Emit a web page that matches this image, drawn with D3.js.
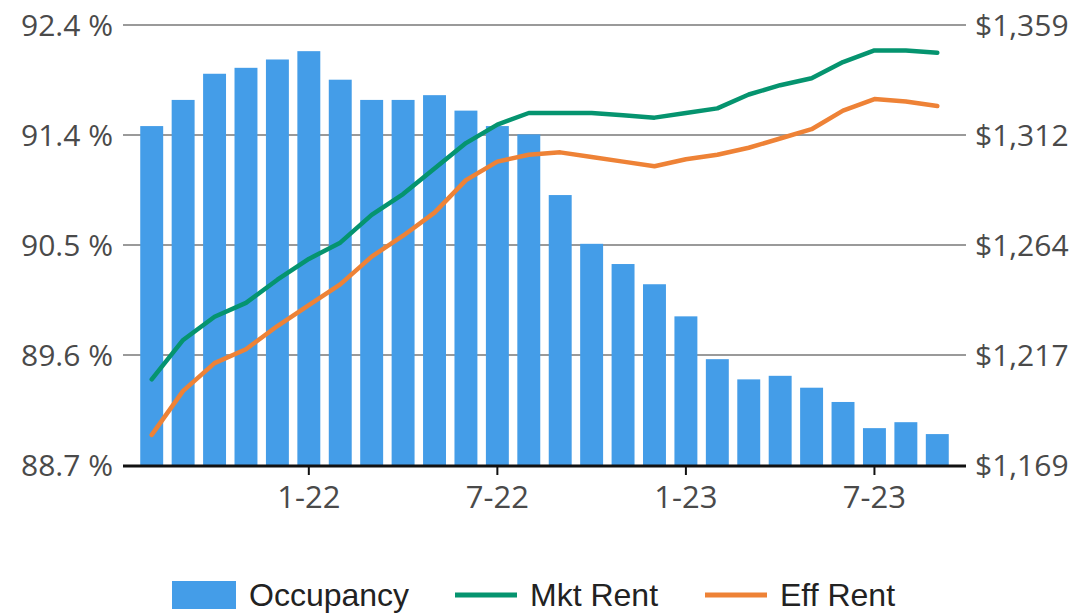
<!DOCTYPE html>
<html>
<head>
<meta charset="utf-8">
<script src="https://cdn.jsdelivr.net/npm/d3@7"></script>
<style>
  body { margin: 0; background: #fff; }
  svg { display: block; }
  .lbl { font-family: "Open Sans", sans-serif; fill: #4a4a4a; }
  .leg { font-family: "Liberation Sans", Arial, sans-serif; fill: #222; }
</style>
</head>
<body>
<script>
/* global d3 */

// months Aug 2021 .. Sep 2023
var months = [ "8-21", "9-21", "10-21", "11-21", "12-21", "1-22", "2-22", "3-22", "4-22",
  "5-22", "6-22", "7-22", "8-22", "9-22", "10-22", "11-22", "12-22", "1-23", "2-23",
  "3-23", "4-23", "5-23", "6-23", "7-23", "8-23", "9-23" ];

var occupancy = [ 91.55, 91.77, 91.99, 92.04, 92.11, 92.18, 91.94, 91.77, 91.77,
  91.81, 91.68, 91.55, 91.48, 90.97, 90.56, 90.39, 90.22, 89.95, 89.59,
  89.42, 89.45, 89.35, 89.23, 89.01, 89.06, 88.96 ];

var mktRent = [ 1206, 1223, 1233, 1239, 1249, 1258, 1265, 1277, 1286,
  1297, 1308, 1316, 1321, 1321, 1321, 1320, 1319, 1321, 1323,
  1329, 1333, 1336, 1343, 1348, 1348, 1347 ];

var effRent = [ 1182, 1201, 1213, 1219, 1229, 1238, 1247, 1259, 1268,
  1278, 1292, 1300, 1303, 1304, 1302, 1300, 1298, 1301, 1303,
  1306, 1310, 1314, 1322, 1327, 1326, 1324 ];

var leftTicks = [ 88.7, 89.625, 90.55, 91.475, 92.4 ];
var leftLabels = [ "88.7 %", "89.6 %", "90.5 %", "91.4 %", "92.4 %" ];
var rightTicks = [ 1169, 1216.5, 1264, 1311.5, 1359 ];
var rightLabels = [ "$1,169", "$1,217", "$1,264", "$1,312", "$1,359" ];
var xTickMonths = [ "1-22", "7-22", "1-23", "7-23" ];

var width = 1074, height = 613;
var plot = { left: 123, right: 966, top: 25, bottom: 465 };

var svg = d3.select( "body" ).append( "svg" )
  .attr( "width", width )
  .attr( "height", height );

var xScale = d3.scaleBand()
  .domain( months )
  .range( [ 136, 953 ] )
  .paddingInner( 0.27 )
  .paddingOuter( 0.135 );

var yLeft = d3.scaleLinear().domain( [ 88.7, 92.4 ] ).range( [ plot.bottom, plot.top ] );
var yRight = d3.scaleLinear().domain( [ 1169, 1359 ] ).range( [ plot.bottom, plot.top ] );

// gridlines
svg.append( "g" ).selectAll( "line" )
  .data( leftTicks.slice( 1 ) )
  .enter().append( "line" )
    .attr( "x1", plot.left )
    .attr( "x2", plot.right )
    .attr( "y1", d => yLeft( d ) )
    .attr( "y2", d => yLeft( d ) )
    .attr( "stroke", "#9a9a9a" )
    .attr( "stroke-width", 2 );

// bars
svg.append( "g" ).selectAll( "rect" )
  .data( occupancy )
  .enter().append( "rect" )
    .attr( "x", ( d, i ) => xScale( months[ i ] ) )
    .attr( "width", xScale.bandwidth() )
    .attr( "y", d => yLeft( d ) )
    .attr( "height", d => plot.bottom - yLeft( d ) )
    .attr( "fill", "#449de8" );

// rent lines
var line = d3.line()
  .x( ( d, i ) => xScale( months[ i ] ) + xScale.bandwidth() / 2 )
  .y( d => yRight( d ) );

var series = [ { values: mktRent, color: "#05946f" }, { values: effRent, color: "#ee8236" } ];

svg.append( "g" ).selectAll( "path" )
  .data( series )
  .enter().append( "path" )
    .attr( "d", d => line( d.values ) )
    .attr( "fill", "none" )
    .attr( "stroke", d => d.color )
    .attr( "stroke-width", 4.5 )
    .attr( "stroke-linejoin", "round" )
    .attr( "stroke-linecap", "round" );

// baseline + x ticks
svg.append( "line" )
  .attr( "x1", plot.left )
  .attr( "x2", plot.right )
  .attr( "y1", plot.bottom + 1 )
  .attr( "y2", plot.bottom + 1 )
  .attr( "stroke", "#111" )
  .attr( "stroke-width", 3 );

var xTicks = svg.append( "g" ).selectAll( "g" )
  .data( xTickMonths )
  .enter().append( "g" )
    .attr( "transform", d => "translate(" + ( xScale( d ) + xScale.bandwidth() / 2 ) + ",0)" );

xTicks.append( "line" )
  .attr( "y1", plot.bottom )
  .attr( "y2", plot.bottom + 10 )
  .attr( "stroke", "#111" )
  .attr( "stroke-width", 2 );

xTicks.append( "text" )
  .attr( "class", "lbl" )
  .attr( "y", 497 )
  .attr( "dy", "0.35em" )
  .attr( "text-anchor", "middle" )
  .style( "font-size", "31px" )
  .text( d => d );

// left axis labels
svg.append( "g" ).selectAll( "text" )
  .data( leftTicks )
  .enter().append( "text" )
    .attr( "class", "lbl" )
    .attr( "x", 113 )
    .attr( "y", d => yLeft( d ) )
    .attr( "dy", "0.35em" )
    .attr( "text-anchor", "end" )
    .style( "font-size", "30px" )
    .text( ( d, i ) => leftLabels[ i ] );

// right axis labels
svg.append( "g" ).selectAll( "text" )
  .data( rightTicks )
  .enter().append( "text" )
    .attr( "class", "lbl" )
    .attr( "x", 975 )
    .attr( "y", d => yRight( d ) )
    .attr( "dy", "0.35em" )
    .style( "font-size", "30px" )
    .text( ( d, i ) => rightLabels[ i ] );

// legend
var legend = svg.append( "g" ).attr( "transform", "translate(0,595)" );

legend.append( "rect" )
  .attr( "x", 172 ).attr( "y", -14 )
  .attr( "width", 64 ).attr( "height", 28 )
  .attr( "fill", "#449de8" );
legend.append( "text" )
  .attr( "class", "leg" ).attr( "x", 249 ).attr( "dy", "0.35em" )
  .style( "font-size", "32px" ).text( "Occupancy" );

legend.append( "line" )
  .attr( "x1", 455 ).attr( "x2", 517 )
  .attr( "stroke", "#05946f" ).attr( "stroke-width", 5 );
legend.append( "text" )
  .attr( "class", "leg" ).attr( "x", 530 ).attr( "dy", "0.35em" )
  .style( "font-size", "32px" ).text( "Mkt Rent" );

legend.append( "line" )
  .attr( "x1", 705 ).attr( "x2", 767 )
  .attr( "stroke", "#ee8236" ).attr( "stroke-width", 5 );
legend.append( "text" )
  .attr( "class", "leg" ).attr( "x", 780 ).attr( "dy", "0.35em" )
  .style( "font-size", "32px" ).text( "Eff Rent" );
</script>
</body>
</html>
